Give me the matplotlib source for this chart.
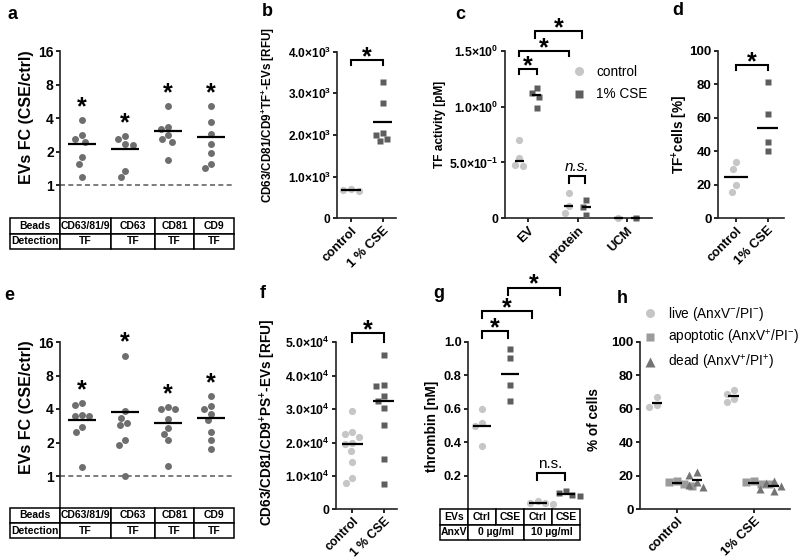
import matplotlib
matplotlib.use('Agg')
import matplotlib.pyplot as plt
import numpy as np
from matplotlib.lines import Line2D
from matplotlib.ticker import NullLocator

plt.rcParams['font.family'] = ['Liberation Sans', 'DejaVu Sans']
plt.rcParams['mathtext.default'] = 'regular'
plt.rcParams['axes.linewidth'] = 1.2
plt.rcParams['axes.edgecolor'] = '#222222'
plt.rcParams['xtick.major.size'] = 3
plt.rcParams['ytick.major.size'] = 3
plt.rcParams['xtick.major.width'] = 1.2
plt.rcParams['ytick.major.width'] = 1.2
plt.rcParams['xtick.major.pad'] = 1.5
plt.rcParams['ytick.major.pad'] = 1.5

LIGHT = '#c6c6c6'
DARK = '#5e5e5e'
MID = '#6e6e6e'
APOP = '#9b9b9b'
DEAD = '#747474'

# ---- data ----
fc_beads = ['CD63/81/9', 'CD63', 'CD81', 'CD9']
fc_detect = ['TF', 'TF', 'TF', 'TF']
fc_ticks = [1, 2, 4, 8, 16]
a_fc = [[3.84, 2.81, 2.6, 2.44, 1.78, 1.54, 1.18],
        [2.75, 2.6, 2.35, 2.3, 1.34, 1.18],
        [5.13, 3.34, 3.2, 2.81, 2.57, 2.45, 1.68],
        [5.13, 3.7, 2.86, 2.34, 1.93, 1.54, 1.41]]
e_fc = [[4.53, 4.32, 3.56, 3.44, 3.44, 2.76, 2.49, 1.2],
        [12.1, 3.84, 3.35, 3.0, 2.85, 2.12, 1.91, 1.0],
        [4.17, 4.03, 4.03, 3.23, 2.72, 2.4, 2.12, 1.22],
        [5.2, 4.26, 4.03, 3.64, 3.16, 2.49, 2.12, 1.76]]

b_labels = ['control', '1 % CSE']
b_ctrl = [700, 650, 680]
b_cse = [3270, 2780, 2050, 2000, 1900, 1850]

c_cats = ['EV', 'protein', 'UCM']
c_ctrl = [[0.70, 0.54, 0.48, 0.47], [0.23, 0.11, 0.05], [0.0]]
c_cse = [[1.17, 1.12, 1.09, 0.99], [0.16, 0.10, 0.03], [0.0]]

d_labels = ['control', '1% CSE']
d_ctrl = [33.8, 29.4, 19.9, 15.9]
d_cse = [81.1, 62.0, 45.3, 40.3]

f_labels = ['control', '1 % CSE']
f_ctrl = [29500, 23000, 22500, 21500, 19800, 19500, 17500, 14200, 9300, 8000]
f_cse = [46200, 37200, 36900, 33900, 32400, 30200, 25200, 15000, 7600]

g_evs = ['Ctrl', 'CSE', 'Ctrl', 'CSE']
g_anxv = ['0 µg/ml', '10 µg/ml']
g_vals = [[0.60, 0.515, 0.50, 0.38], [0.957, 0.90, 0.74, 0.644],
          [0.05, 0.04, 0.035, 0.03], [0.11, 0.10, 0.085, 0.08]]

h_labels = ['control', '1% CSE']
h_live = [[67, 62, 61], [71, 69, 66, 64]]
h_apop = [[17, 16, 15, 14], [17, 16, 15, 15]]
h_dead = [[22, 20.5, 16, 14.5, 13], [16.5, 15.5, 14, 12, 11]]

W, H = 800, 560
fig = plt.figure(figsize=(W / 100, H / 100), dpi=100)


def px_axes(x0, y0, x1, y1):
    return fig.add_axes([x0 / W, 1 - y1 / H, (x1 - x0) / W, (y1 - y0) / H])


def swarm_x(ax, x0, vals, diam):
    pts = ax.transData.transform(np.column_stack([np.full(len(vals), x0), vals]))
    offs = np.zeros(len(vals))
    placed = []
    for i in np.argsort(-np.asarray(vals), kind='stable'):
        y = pts[i, 1]
        near = [(ox, np.sqrt(diam ** 2 - (y - py) ** 2)) for ox, py in placed if abs(y - py) < diam]
        cand = [0.0] + [ox + s * r for ox, r in near for s in (-1, 1)]
        cand.sort(key=abs)
        for c in cand:
            if all(abs(c - ox) >= r - 1e-6 for ox, r in near):
                offs[i] = c
                break
        placed.append((offs[i], y))
    xy = np.column_stack([pts[:, 0] + offs, pts[:, 1]])
    return ax.transData.inverted().transform(xy)[:, 0]


def dots(ax, x0, vals, marker, color, ms, half, stat=np.mean):
    xs = swarm_x(ax, x0, vals, ms * 100 / 72 + 0.6)
    ax.plot(xs, vals, ls='none', marker=marker, color=color, ms=ms, mec='none',
            clip_on=False, zorder=3)
    m = stat(vals)
    ax.plot([x0 - half, x0 + half], [m, m], color='black', lw=1.6, zorder=4,
            solid_capstyle='butt', clip_on=False)


def star(ax, x, y, dy=-3):
    ax.annotate('*', (x, y), xytext=(0, dy), textcoords='offset points', ha='center',
                va='baseline', fontsize=18, fontweight='bold', annotation_clip=False)


def bracket(ax, x1, x2, y, drop, label='*', italic=False):
    ax.plot([x1, x1, x2, x2], [y - drop, y, y, y - drop], color='black', lw=1.5,
            clip_on=False, solid_joinstyle='miter')
    if label == '*':
        star(ax, (x1 + x2) / 2, y)
    else:
        ax.annotate(label, ((x1 + x2) / 2, y), xytext=(0, 1.5), textcoords='offset points',
                    ha='center', va='bottom', fontsize=11,
                    style='italic' if italic else 'normal', annotation_clip=False)


def basic(ax, yticks, ylabels, xticks=None, xlabels=None, ysize=9, xsize=9.3):
    ax.spines[['top', 'right']].set_visible(False)
    ax.set_yticks(yticks, ylabels, fontweight='bold', fontsize=ysize)
    if xticks is not None:
        ax.set_xticks(xticks, xlabels, rotation=45, ha='right', rotation_mode='anchor',
                      fontweight='bold', fontsize=xsize)


def table(axt, rows, widths, fs=7.5):
    axt.axis('off')
    tb = axt.table(cellText=rows, colWidths=list(np.array(widths) / sum(widths)),
                   cellLoc='center', bbox=[0, 0, 1, 1])
    tb.auto_set_font_size(False)
    tb.set_fontsize(fs)
    for cell in tb.get_celld().values():
        cell.set_linewidth(1.1)
        cell.get_text().set_fontweight('bold')
    return tb


def fc_panel(box, tbox, data):
    ax = px_axes(*box)
    ax.set_yscale('log', base=2)
    ax.set_ylim(0.5, 16)
    ax.set_xlim(-0.51, 3.53)
    basic(ax, fc_ticks, [str(t) for t in fc_ticks], ysize=10)
    ax.yaxis.set_minor_locator(NullLocator())
    ax.spines['bottom'].set_visible(False)
    ax.set_xticks([])
    ax.axhline(1, color='#666666', lw=1.2, ls=(0, (3, 2)), zorder=1)
    for i, vals in enumerate(data):
        dots(ax, i, vals, 'o', MID, 5, 0.33)
        star(ax, i, max(vals) * 1.5, dy=-10)
    table(px_axes(*tbox), [['Beads'] + fc_beads, ['Detection'] + fc_detect],
          [50, 51, 44, 39, 40])
    return ax


# ---- a ----
fc_panel((60, 51, 234, 218.5), (10, 218, 234, 249), a_fc)
fig.text(27 / W, 1 - 117 / H, 'EVs FC (CSE/ctrl)', rotation=90, ha='center', va='center',
         fontsize=11.5, fontweight='bold')

# ---- e ----
fc_panel((60, 342, 234, 509.5), (10, 508, 234, 538), e_fc)
fig.text(27 / W, 1 - 407 / H, 'EVs FC (CSE/ctrl)', rotation=90, ha='center', va='center',
         fontsize=11.5, fontweight='bold')

# ---- b ----
ax = px_axes(337, 51.7, 396, 218.3)
ax.set_ylim(0, 4000)
ax.set_xlim(-0.44, 1.41)
bt = [0, 1000, 2000, 3000, 4000]
basic(ax, bt, ['0'] + ['%.1f×10$^{3}$' % (t / 1000) for t in bt[1:]], [0, 1], b_labels, ysize=8.6)
dots(ax, 0, b_ctrl, 'o', LIGHT, 5.2, 0.3)
dots(ax, 1, b_cse, 's', DARK, 5, 0.3)
bracket(ax, 0, 1, 3800, 130)
fig.text(268 / W, 1 - 115 / H, 'CD63/CD81/CD9$^{+}$TF$^{+}$-EVs [RFU]', rotation=90,
         ha='center', va='center', fontsize=8.4, fontweight='bold')

# ---- c ----
ax = px_axes(505, 50.7, 652, 218.3)
ax.set_ylim(0, 1.5)
ax.set_xlim(-0.465, 2.505)
basic(ax, [0, 0.5, 1.0, 1.5], ['0', '5.0×10$^{-1}$', '1.0×10$^{0}$', '1.5×10$^{0}$'],
      [0, 1, 2], c_cats, ysize=8.8)
for i in range(3):
    dots(ax, i - 0.18, c_ctrl[i], 'o', LIGHT, 5.2, 0.09, stat=np.median)
    dots(ax, i + 0.18, c_cse[i], 's', DARK, 5, 0.09, stat=np.median)
bracket(ax, -0.18, 0.18, 1.337, 0.05)
bracket(ax, -0.18, 0.82, 1.50, 0.05)
bracket(ax, 0.15, 1.1, 1.677, 0.06)
bracket(ax, 0.82, 1.15, 0.379, 0.06, 'n.s.', italic=True)
fig.text(440 / W, 1 - 124 / H, 'TF activity [pM]', rotation=90, ha='center', va='center',
         fontsize=8.6, fontweight='bold')
fig.legend([Line2D([], [], ls='none', marker='o', color=LIGHT, ms=6.5, mec='none'),
            Line2D([], [], ls='none', marker='s', color=DARK, ms=6, mec='none')],
           ['control', '1% CSE'], loc='upper left', bbox_to_anchor=(572 / W, 1 - 65 / H),
           frameon=False, fontsize=9.8, handlelength=1, handletextpad=0.8,
           labelspacing=0.62, borderpad=0, borderaxespad=0)

# ---- d ----
ax = px_axes(718, 50.7, 784, 218.3)
ax.set_ylim(0, 100)
ax.set_xlim(-0.57, 1.52)
dt = [0, 20, 40, 60, 80, 100]
basic(ax, dt, [str(t) for t in dt], [0, 1], d_labels, ysize=9.6)
dots(ax, 0, d_ctrl, 'o', LIGHT, 5.2, 0.38)
dots(ax, 1, d_cse, 's', DARK, 5, 0.34, stat=np.median)
bracket(ax, 0, 1, 91.5, 3.2)
fig.text(680 / W, 1 - 134 / H, 'TF$^{+}$cells [%]', rotation=90, ha='center', va='center',
         fontsize=9.8, fontweight='bold')

# ---- f ----
ax = px_axes(336, 342.3, 397, 509.3)
ax.set_ylim(0, 50000)
ax.set_xlim(-0.53, 1.43)
ft = [0, 10000, 20000, 30000, 40000, 50000]
basic(ax, ft, ['0'] + ['%.1f×10$^{4}$' % (t / 10000) for t in ft[1:]], [0, 1], f_labels,
      ysize=8.8, xsize=8.8)
dots(ax, 0, f_ctrl, 'o', LIGHT, 5.2, 0.35, stat=np.median)
dots(ax, 1, f_cse, 's', DARK, 5, 0.33, stat=np.median)
bracket(ax, 0, 1, 52700, 2500)
fig.text(268 / W, 1 - 422 / H, 'CD63/CD81/CD9$^{+}$PS$^{+}$-EVs [RFU]', rotation=90,
         ha='center', va='center', fontsize=9.8, fontweight='bold')

# ---- g ----
ax = px_axes(468, 341.7, 580, 509.3)
ax.set_ylim(0, 1.0)
ax.set_xlim(-0.5, 3.5)
gt = [0.2, 0.4, 0.6, 0.8, 1.0]
basic(ax, gt, ['%.1f' % t for t in gt], ysize=9.2)
ax.spines['bottom'].set_visible(False)
ax.set_xticks([])
for i, vals in enumerate(g_vals):
    if g_evs[i] == 'Ctrl':
        dots(ax, i, vals, 'o', LIGHT, 5.2, 0.32)
    else:
        dots(ax, i, vals, 's', DARK, 5, 0.32)
bracket(ax, 0, 0.92, 1.064, 0.04)
bracket(ax, 0, 1.8, 1.183, 0.04)
bracket(ax, 0.92, 2.8, 1.323, 0.044)
bracket(ax, 1.95, 2.95, 0.219, 0.044, 'n.s.')
axt = px_axes(440, 509, 580, 540)
tb = table(axt, [['EVs'] + g_evs, ['AnxV', '', '', '', '']], [1, 1, 1, 1, 1])
for c0 in (1, 3):
    tb[(1, c0)].visible_edges = 'BTL'
    tb[(1, c0 + 1)].visible_edges = 'BTR'
for k, lab in enumerate(g_anxv):
    axt.text(0.4 + 0.4 * k, 0.25, lab, transform=axt.transAxes, ha='center', va='center',
             fontsize=7.5, fontweight='bold')
fig.text(432 / W, 1 - 426 / H, 'thrombin [nM]', rotation=90, ha='center', va='center',
         fontsize=9.8, fontweight='bold')

# ---- h ----
ax = px_axes(640, 341.7, 790, 509)
ax.set_ylim(0, 100)
ax.set_xlim(-0.48, 1.47)
ht = [0, 20, 40, 60, 80, 100]
basic(ax, ht, [str(t) for t in ht], [0, 1], h_labels, ysize=9.6)
for i in range(2):
    dots(ax, i - 0.26, h_live[i], 'o', LIGHT, 5.2, 0.07)
    dots(ax, i, h_apop[i], 's', APOP, 5.4, 0.07)
    dots(ax, i + 0.26, h_dead[i], '^', DEAD, 5.5, 0.07)
fig.text(594 / W, 1 - 420 / H, '% of cells', rotation=90, ha='center', va='center',
         fontsize=9.8, fontweight='bold')
fig.legend([Line2D([], [], ls='none', marker='o', color=LIGHT, ms=6.5, mec='none'),
            Line2D([], [], ls='none', marker='s', color=APOP, ms=6, mec='none'),
            Line2D([], [], ls='none', marker='^', color=DEAD, ms=6.5, mec='none')],
           ['live (AnxV$^{-}$/PI$^{-}$)', 'apoptotic (AnxV$^{+}$/PI$^{-}$)',
            'dead (AnxV$^{+}$/PI$^{+}$)'],
           loc='upper left', bbox_to_anchor=(643.5 / W, 1 - 305 / H),
           frameon=False, fontsize=9.8, handlelength=1, handletextpad=0.8,
           labelspacing=0.4, borderpad=0, borderaxespad=0)

# ---- panel letters ----
for lab, x, y in [('a', 8, 19), ('b', 262, 16), ('c', 455, 19), ('d', 672, 15),
                  ('e', 4, 300), ('f', 260, 298), ('g', 433, 298), ('h', 617, 303)]:
    fig.text(x / W, 1 - y / H, lab, fontsize=13, fontweight='bold', va='baseline')

fig.savefig('out.png', dpi=100)
